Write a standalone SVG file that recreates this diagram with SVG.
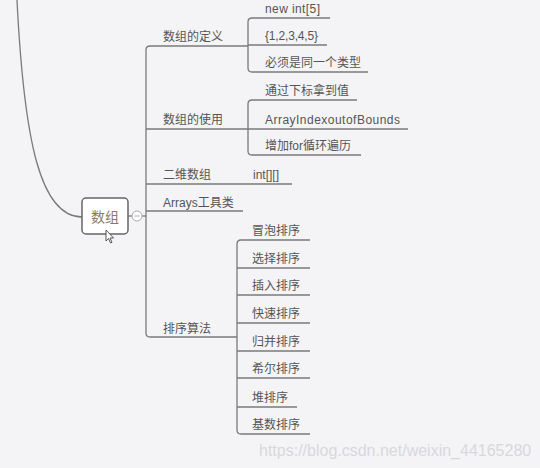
<svg xmlns="http://www.w3.org/2000/svg" width="540" height="468" viewBox="0 0 540 468">
<style>
.ln{fill:none;stroke:#7a7a7a;stroke-width:1.3}
.t{font-family:"Liberation Sans","Noto Sans CJK SC",sans-serif;font-size:12px;fill:#555}
.root{font-family:"Noto Sans CJK SC",sans-serif;font-size:14px;fill:#8a7a68}
.wm{font-family:"Liberation Sans",sans-serif;font-size:16px;fill:#d8d8dc}
</style>
<rect x="0" y="0" width="540" height="468" fill="#f4f4f6"/>
<g id="connectors">
<path class="ln" d="M17 0 C 24 140 40 217 82 217"/>
<path class="ln" d="M128 216 L132 216"/>
<path class="ln" d="M142 216 L146 216"/>
<path class="ln" d="M248 46 L150 46 Q146 46 146 50 L146 333 Q146 337 150 337 L237 337"/>
<path class="ln" d="M146 129 L248 129"/>
<path class="ln" d="M146 184 L292 184"/>
<path class="ln" d="M146 211 L243 211"/>
<path class="ln" d="M330 18 L252 18 Q248 18 248 22 L248 68 Q248 72 252 72 L368 72"/>
<path class="ln" d="M248 45 L327 45"/>
<path class="ln" d="M357 100 L252 100 Q248 100 248 104 L248 151 Q248 155 252 155 L361 155"/>
<path class="ln" d="M248 129 L408 129"/>
<path class="ln" d="M310 240 L241 240 Q237 240 237 244 L237 430 Q237 434 241 434 L310 434"/>
<path class="ln" d="M237 268 L310 268"/>
<path class="ln" d="M237 295 L310 295"/>
<path class="ln" d="M237 323 L310 323"/>
<path class="ln" d="M237 351 L310 351"/>
<path class="ln" d="M237 378 L310 378"/>
<path class="ln" d="M237 407 L297 407"/>
</g>
<g id="root">
<rect x="82" y="198" width="46" height="36" rx="4" fill="#fff" stroke="#666" stroke-width="1.5"/>
<text class="root" x="105" y="222" text-anchor="middle">数组</text>
<circle cx="137" cy="216" r="5" fill="#fff" stroke="#aaa" stroke-width="1"/>
<path d="M134.5 216 L139.5 216" stroke="#aaa" stroke-width="1"/>
</g>
<g id="n-def"><text class="t" x="163" y="41">数组的定义</text></g>
<g id="n-def1"><text class="t" x="265" y="13" textLength="55">new int[5]</text></g>
<g id="n-def2"><text class="t" x="265" y="40" textLength="53">{1,2,3,4,5}</text></g>
<g id="n-def3"><text class="t" x="265" y="67">必须是同一个类型</text></g>
<g id="n-use"><text class="t" x="163" y="124">数组的使用</text></g>
<g id="n-use1"><text class="t" x="265" y="95">通过下标拿到值</text></g>
<g id="n-use2"><text class="t" x="265" y="124" textLength="135">ArrayIndexoutofBounds</text></g>
<g id="n-use3"><text class="t" x="265" y="150">增加for循环遍历</text></g>
<g id="n-2d"><text class="t" x="163" y="179">二维数组</text></g>
<g id="n-2d1"><text class="t" x="253" y="179">int[][]</text></g>
<g id="n-arrays"><text class="t" x="163" y="207">Arrays工具类</text></g>
<g id="n-sort"><text class="t" x="163" y="333">排序算法</text></g>
<g id="n-s1"><text class="t" x="252" y="235">冒泡排序</text></g>
<g id="n-s2"><text class="t" x="252" y="263">选择排序</text></g>
<g id="n-s3"><text class="t" x="252" y="290">插入排序</text></g>
<g id="n-s4"><text class="t" x="252" y="318">快速排序</text></g>
<g id="n-s5"><text class="t" x="252" y="346">归并排序</text></g>
<g id="n-s6"><text class="t" x="252" y="373">希尔排序</text></g>
<g id="n-s7"><text class="t" x="252" y="402">堆排序</text></g>
<g id="n-s8"><text class="t" x="252" y="429">基数排序</text></g>
<path d="M106 230 L106 241 L108.5 238.5 L110.5 243 L112 242.3 L110 238 L113.5 238 Z" fill="#fff" stroke="#333" stroke-width="0.8"/>
<text class="wm" x="259" y="456">https://blog.csdn.net/weixin_44165280</text>
</svg>
